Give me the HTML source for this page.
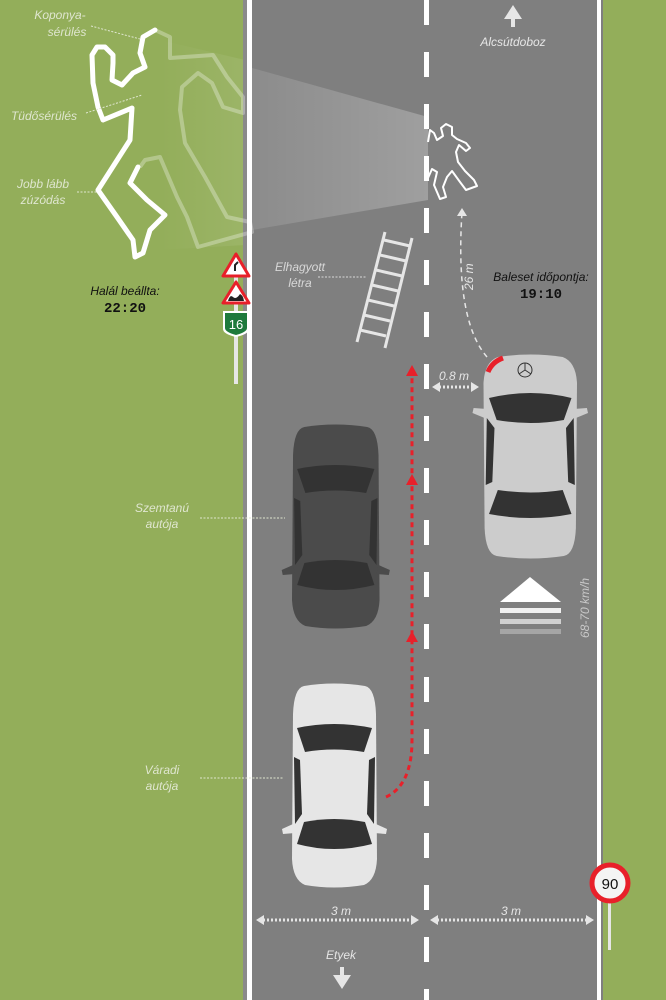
<!DOCTYPE html>
<html><head><meta charset="utf-8"><style>
html,body{margin:0;padding:0;width:666px;height:1000px;overflow:hidden;background:#93ae5a}
svg{display:block}
text{font-family:"Liberation Sans",sans-serif}
.lbl{font-style:italic;fill:#dfe6cf;font-size:12px}
.lbr{font-style:italic;fill:#e6e6e6;font-size:12px}
</style></head><body>
<svg width="666" height="1000" viewBox="0 0 666 1000" xmlns="http://www.w3.org/2000/svg">
<defs>
<linearGradient id="beam" x1="0" x2="1" y1="0" y2="0">
<stop offset="0" stop-color="#ffffff" stop-opacity="0.10"/>
<stop offset="1" stop-color="#ffffff" stop-opacity="0.25"/>
</linearGradient>
<linearGradient id="gbeam" x1="0" x2="1" y1="0" y2="0">
<stop offset="0" stop-color="#ffffff" stop-opacity="0"/>
<stop offset="1" stop-color="#ffffff" stop-opacity="0.08"/>
</linearGradient>
<g id="car">
<path d="M12,2 Q42,-3 73,2 Q83,4 84,30 L85,175 Q84,196 72,201 Q42,206 13,201 Q1,196 0,175 L1,30 Q2,4 12,2 Z"/>
<path d="M5,44 Q42,36 80,44 L72,68 Q42,63 13,68 Z" fill="#333"/>
<path d="M12,138 Q42,132 73,138 L80,160 Q42,170 5,160 Z" fill="#333"/>
<path d="M2,73 L8,76 L10,130 L3,140 Z" fill="#333"/>
<path d="M83,73 L77,76 L75,130 L82,140 Z" fill="#333"/>
<path d="M1,140 L-10,145 L-9,150 L3,149 Z"/>
<path d="M84,140 L95,145 L94,150 L82,149 Z"/>
</g>
</defs>

<polygon points="160,40 245,60 245,245 160,250" fill="url(#gbeam)"/>

<rect x="243" y="0" width="360" height="1000" fill="#7f7f7f"/>
<rect x="243" y="0" width="5" height="1000" fill="#8a8a8a"/>
<rect x="247" y="0" width="5" height="1000" fill="#fff"/>
<rect x="597" y="0" width="4" height="1000" fill="#fff"/>

<polygon points="252,68 428,117 428,200 252,230" fill="url(#beam)"/>

<g fill="#fff">
<rect x="424" y="0" width="5" height="25"/>
<rect x="424" y="52" width="5" height="25"/>
<rect x="424" y="104" width="5" height="25"/>
<rect x="424" y="156" width="5" height="25"/>
<rect x="424" y="208" width="5" height="25"/>
<rect x="424" y="260" width="5" height="25"/>
<rect x="424" y="312" width="5" height="25"/>
<rect x="424" y="364" width="5" height="25"/>
<rect x="424" y="416" width="5" height="25"/>
<rect x="424" y="468" width="5" height="25"/>
<rect x="424" y="520" width="5" height="25"/>
<rect x="424" y="572" width="5" height="25"/>
<rect x="424" y="624" width="5" height="25"/>
<rect x="424" y="677" width="5" height="25"/>
<rect x="424" y="729" width="5" height="25"/>
<rect x="424" y="781" width="5" height="25"/>
<rect x="424" y="833" width="5" height="25"/>
<rect x="424" y="885" width="5" height="25"/>
<rect x="424" y="937" width="5" height="25"/>
<rect x="424" y="989" width="5" height="25"/>
</g>

<polyline fill="none" stroke="#fff" stroke-opacity="0.3" stroke-width="4" stroke-linejoin="round"
points="155,30 170,37 170,58 213,55 227,77 243,97 243,113 223,107 212,83 198,73 182,87 180,110 185,143 205,177 227,217 250,222 252,232 223,240 198,247 187,217 177,197 160,157 145,160 140,167"/>
<polyline fill="none" stroke="#fff" stroke-width="5" stroke-linejoin="round" stroke-linecap="round"
points="155,30 143,37 140,53 145,67 133,73 122,85 112,80 113,63 113,55 105,47 97,47 92,55 93,83 98,107 103,120 132,108 130,140 98,190 117,217 133,240 135,257 143,253 150,230 165,215 147,200 130,183 138,167"/>

<polyline fill="none" stroke="#fff" stroke-width="2" stroke-linejoin="round"
points="428,142 430,130 434,133 437,140 443,136 441,128 446,124 452,127 452,135 457,139 466,143 470,148 466,151 459,145 456,152 458,162 465,171 474,180 477,186 466,190 460,182 452,171 447,177 443,187 446,197 440,199 434,185 437,172 432,169 428,178"/>

<g stroke="#e6e6e6" stroke-width="3" fill="none">
<line x1="385" y1="232" x2="357" y2="342"/>
<line x1="412" y1="238" x2="385" y2="348"/>
<line x1="384" y1="240" x2="410" y2="246"/>
<line x1="380" y1="255" x2="406" y2="261"/>
<line x1="376" y1="270" x2="402" y2="276"/>
<line x1="372" y1="285" x2="398" y2="291"/>
<line x1="368" y1="300" x2="394" y2="306"/>
<line x1="364" y1="315" x2="390" y2="321"/>
<line x1="360" y1="330" x2="386" y2="336"/>
</g>

<g transform="translate(292,425) scale(1.03,1)" fill="#4b4b4b"><use href="#car"/></g>
<g transform="translate(292,684)" fill="#e6e6e6"><use href="#car"/></g>
<g transform="translate(577,558) rotate(180) scale(1.1,1)" fill="#cccccc"><use href="#car"/></g>
<g stroke="#333" stroke-width="1" fill="none">
<circle cx="525" cy="370" r="7"/>
<line x1="525" y1="370" x2="525" y2="363"/>
<line x1="525" y1="370" x2="519" y2="374"/>
<line x1="525" y1="370" x2="531" y2="374"/>
</g>
<path d="M488,372 Q492,362 503,358" stroke="#e8202a" stroke-width="5" fill="none"/>

<path d="M487,357 Q455,320 462,212" stroke="#e6e6e6" stroke-width="1.5" stroke-dasharray="5 4" fill="none"/>
<polygon points="462,208 457,216 467,216" fill="#e6e6e6"/>
<text class="lbr" transform="translate(473,290) rotate(-90)" font-size="12">26 m</text>

<path d="M386,797 Q412,785 412,740 L412,372" stroke="#e8202a" stroke-width="3" stroke-dasharray="5 4" fill="none"/>
<g fill="#e8202a">
<polygon points="412,365 406,376 418,376"/>
<polygon points="412,474 406,485 418,485"/>
<polygon points="412,631 406,642 418,642"/>
</g>

<line x1="439" y1="387" x2="472" y2="387" stroke="#e6e6e6" stroke-width="3" stroke-dasharray="2 2"/>
<polygon points="432,387 440,382 440,392" fill="#e6e6e6"/>
<polygon points="479,387 471,382 471,392" fill="#e6e6e6"/>
<text class="lbr" x="454" y="380" text-anchor="middle">0.8 m</text>

<polygon points="530,577 500,602 561,602" fill="#fff"/>
<rect x="500" y="608" width="61" height="5" fill="#f0f0f0"/>
<rect x="500" y="619" width="61" height="5" fill="#d0d0d0"/>
<rect x="500" y="629" width="61" height="5" fill="#a5a5a5"/>
<text class="lbr" transform="translate(589,638) rotate(-90)" style="fill:#c8c8c8" font-size="11">68-70 km/h</text>

<g stroke="#e6e6e6" stroke-width="3" stroke-dasharray="2 2">
<line x1="263" y1="920" x2="412" y2="920"/>
<line x1="437" y1="920" x2="588" y2="920"/>
</g>
<g fill="#e6e6e6">
<polygon points="256,920 264,915 264,925"/>
<polygon points="419,920 411,915 411,925"/>
<polygon points="430,920 438,915 438,925"/>
<polygon points="594,920 586,915 586,925"/>
</g>
<text class="lbr" x="341" y="915" text-anchor="middle">3 m</text>
<text class="lbr" x="511" y="915" text-anchor="middle">3 m</text>

<text class="lbr" x="341" y="959" text-anchor="middle">Etyek</text>
<rect x="340" y="967" width="4" height="8" fill="#e6e6e6"/>
<polygon points="333,975 351,975 342,989" fill="#e6e6e6"/>
<polygon points="513,5 504,19 522,19" fill="#e6e6e6"/>
<rect x="511" y="18" width="4" height="9" fill="#e6e6e6"/>
<text class="lbr" x="513" y="46" text-anchor="middle">Alcsútdoboz</text>

<rect x="234" y="260" width="4" height="124" fill="#e6e6e6"/>
<polygon points="236,254 223,276 249,276" fill="#fff" stroke="#e8202a" stroke-width="3" stroke-linejoin="round"/>
<path d="M235,271 L235,265 L238,262" stroke="#222" stroke-width="2" fill="none"/>
<polygon points="236,282 223,303 249,303" fill="#fff" stroke="#e8202a" stroke-width="3" stroke-linejoin="round"/>
<path d="M228,301 Q230,294 233,297 Q236,300 240,294 Q243,295 244,301 Z" fill="#222"/>
<path d="M223,311 L249,311 L249,329 Q249,334 236,337 Q223,334 223,329 Z" fill="#fff"/>
<path d="M225,313 L247,313 L247,328 Q247,332 236,335 Q225,332 225,328 Z" fill="#1e7a3c"/>
<text x="236" y="329" text-anchor="middle" fill="#fff" font-size="13">16</text>

<rect x="608" y="895" width="3" height="55" fill="#e6e6e6"/>
<circle cx="610" cy="883" r="18" fill="#f4f4f4" stroke="#e8202a" stroke-width="5"/>
<text x="610" y="889" text-anchor="middle" font-size="15" fill="#111">90</text>

<text class="lbl" x="60" y="19" text-anchor="middle">Koponya-</text>
<text class="lbl" x="67" y="36" text-anchor="middle">sérülés</text>
<line x1="91" y1="26" x2="140" y2="39" stroke="#dfe6cf" stroke-dasharray="2 1.5"/>
<text class="lbl" x="44" y="120" text-anchor="middle">Tüdősérülés</text>
<line x1="86" y1="113" x2="142" y2="95" stroke="#dfe6cf" stroke-dasharray="2 1.5"/>
<text class="lbl" x="43" y="188" text-anchor="middle">Jobb lább</text>
<text class="lbl" x="43" y="204" text-anchor="middle">zúzódás</text>
<line x1="77" y1="192" x2="97" y2="192" stroke="#dfe6cf" stroke-dasharray="2 1.5"/>
<text x="125" y="295" text-anchor="middle" font-size="12" font-style="italic" fill="#111">Halál beállta:</text>
<text x="125" y="312" text-anchor="middle" font-size="14" font-weight="bold" fill="#111" style="font-family:'Liberation Mono',monospace">22:20</text>

<text class="lbr" x="300" y="271" text-anchor="middle" style="fill:#d8d8d8">Elhagyott</text>
<text class="lbr" x="300" y="287" text-anchor="middle" style="fill:#d8d8d8">létra</text>
<line x1="318" y1="277" x2="367" y2="277" stroke="#d8d8d8" stroke-dasharray="2 1.5"/>
<text x="541" y="281" text-anchor="middle" font-size="12" font-style="italic" fill="#111">Baleset időpontja:</text>
<text x="541" y="298" text-anchor="middle" font-size="14" font-weight="bold" fill="#111" style="font-family:'Liberation Mono',monospace">19:10</text>

<text class="lbl" x="162" y="512" text-anchor="middle">Szemtanú</text>
<text class="lbl" x="162" y="528" text-anchor="middle">autója</text>
<line x1="200" y1="518" x2="285" y2="518" stroke="#dfe6cf" stroke-dasharray="2 1.5"/>
<text class="lbl" x="162" y="774" text-anchor="middle">Váradi</text>
<text class="lbl" x="162" y="790" text-anchor="middle">autója</text>
<line x1="200" y1="778" x2="283" y2="778" stroke="#dfe6cf" stroke-dasharray="2 1.5"/>
</svg>
</body></html>
